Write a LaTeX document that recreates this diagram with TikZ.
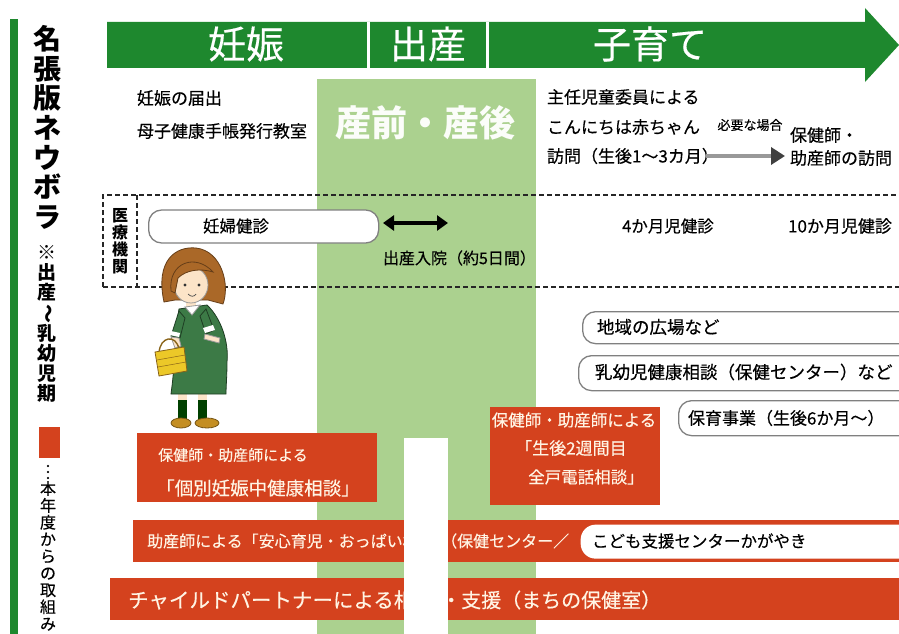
\documentclass[tikz,border=0pt]{standalone}
\usepackage{fontspec}
\setmainfont{Noto Sans CJK JP}[UprightFeatures={FakeBold=0.35}]
\usepackage{graphicx}
\usetikzlibrary{arrows.meta}
\definecolor{barGreen}{RGB}{30,136,46}
\definecolor{paleGreen}{RGB}{171,209,143}
\definecolor{newRed}{RGB}{212,66,30}
\definecolor{boxGray}{RGB}{128,128,128}
\definecolor{creamText}{RGB}{255,244,228}
\definecolor{hairBrown}{RGB}{170,104,40}
\definecolor{skinTone}{RGB}{252,228,200}
\definecolor{dressGreen}{RGB}{60,122,70}
\definecolor{basketYellow}{RGB}{236,200,40}
\definecolor{shoeOchre}{RGB}{196,142,34}
% font size helpers: \fsz{size}, \fszb{size}{baselineskip}
\newcommand\fsz[1]{\fontsize{#1}{#1}\selectfont}
\newcommand\fszb[2]{\fontsize{#1}{#2}\selectfont}
\begin{document}
\begin{tikzpicture}[x=1pt,y=-1pt,
  txt/.style={inner sep=0pt, outer sep=0pt, anchor=west, text=black},
  barlabel/.style={inner sep=0pt, text=white, font=\fsz{38}},
  redlabel/.style={inner sep=0pt, anchor=west, text=creamText},
  redbox/.style={fill=newRed, draw=none, inner sep=0pt, anchor=north west},
  pill/.style={draw=boxGray, line width=1.3pt, fill=white, rounded corners=13pt, inner sep=0pt},
  dashbox/.style={draw=black!85, line width=1.4pt, dash pattern=on 5pt off 3pt},
  vstack/.style={inner sep=0pt, align=center, text=black}
]
\useasboundingbox (0,0) rectangle (899,634);
\clip (0,0) rectangle (899,634);
\fill[white] (0,0) rectangle (899,634);

% ---- left title column ----
\fill[barGreen] (10,19) rectangle (18,634);
\node[vstack, anchor=north, font=\fszb{28}{29.7}\bfseries] (title) at (47,25)
  {名\\張\\版\\ネ\\ウ\\ボ\\ラ};
\node[vstack, anchor=north, font=\fszb{19}{20}\bfseries] (period) at (47,245)
  {※\\出\\産\\\rotatebox[origin=c]{-90}{～}\\乳\\幼\\児\\期};
\node[fill=newRed, inner sep=0pt, minimum width=21pt, minimum height=31pt, anchor=north west] (legend) at (39,427) {};
\node[vstack, anchor=north, font=\fszb{16}{16.9}] (legendT) at (48,463)
  {\rotatebox[origin=c]{-90}{…}\\本\\年\\度\\か\\ら\\の\\取\\組\\み};

% ---- period column (before / after birth) ----
\fill[paleGreen] (317,79) rectangle (536,634);

% ---- timeline arrow ----
\fill[barGreen] (107,22) -- (865,22) -- (865,8) -- (899,45) -- (865,82) -- (865,68) -- (107,68) -- cycle;
\fill[white] (366.5,22) rectangle (369.5,68);
\fill[white] (485.5,22) rectangle (488.5,68);
\node[barlabel] (pregnancy) at (246,44) {妊娠};
\node[barlabel] (birth) at (428,44) {出産};
\node[barlabel] (childcare) at (650,44) {子育て};

% ---- upper texts ----
\node[txt, font=\fsz{17}] (notif) at (137,98) {妊娠の届出};
\node[txt, font=\fsz{17}] (handbook) at (137,131) {母子健康手帳発行教室};
\node[inner sep=0pt, text=white!95!paleGreen, font=\fsz{36}\bfseries] (peri) at (425,123) {産前・産後};
\node[txt, font=\fsz{17}] (visitA) at (547,97) {主任児童委員による};
\node[txt, font=\fsz{17}] (visitB) at (547,127) {こんにちは赤ちゃん};
\node[txt, font=\fsz{17}] (visitC) at (547,156) {訪問（生後1～3カ月）};
\node[inner sep=0pt, font=\fsz{13}] (ifneeded) at (750,125) {必要な場合};
\coordinate (gStart) at (706,156);
\coordinate (gEnd) at (785,156);
\draw[line width=4pt, draw=black!40, -{Triangle[length=14pt,width=17pt,color=black!75]}] (gStart) -- (gEnd);
\node[txt, font=\fsz{17}] (nurseA) at (790,135) {保健師・};
\node[txt, font=\fsz{17}] (nurseB) at (790,158) {助産師の訪問};

% ---- medical institution band ----
\draw[dashbox] (103,287) -- (103,195) -- (920,195);
\draw[dashbox] (103,287) -- (920,287);
\draw[dashbox] (137,195) -- (137,287);
\node[vstack, font=\fszb{16}{17}\bfseries] (medical) at (120,241) {医\\療\\機\\関};
\node[pill, minimum width=230pt, minimum height=33pt, anchor=west] (checkup) at (148,226.5) {};
\node[inner sep=0pt, font=\fsz{16.5}] (checkupT) at (236,226) {妊婦健診};
\coordinate (stayL) at (383,223);
\coordinate (stayR) at (448,223);
\draw[line width=3.5pt, {Triangle[length=11pt,width=15pt]}-{Triangle[length=11pt,width=15pt]}] (stayL) -- (stayR);
\node[txt, font=\fsz{16}] (stay) at (383,258) {出産入院（約5日間）};
\node[inner sep=0pt, font=\fsz{16.5}] (month4) at (668,226) {4か月児健診};
\node[inner sep=0pt, font=\fsz{17}] (month10) at (840,226) {10か月児健診};

% ---- community services ----
\node[pill, minimum width=345pt, minimum height=32pt, anchor=north west] (plaza) at (582,311) {};
\node[txt, font=\fsz{17.5}] (plazaT) at (597,327) {地域の広場など};
\node[pill, minimum width=345pt, minimum height=35pt, anchor=north west] (infant) at (578,355) {};
\node[txt, font=\fsz{17.5}] (infantT) at (595,372) {乳幼児健康相談（保健センター）など};
\node[pill, minimum width=245pt, minimum height=35pt, anchor=north west] (nursery) at (678,400) {};
\node[txt, font=\fsz{17}] (nurseryT) at (688,418) {保育事業（生後6か月～）};

% ---- new programmes (red) ----
\node[redbox, minimum width=240pt, minimum height=69pt] (prenatal) at (137,433) {};
\node[redlabel, font=\fsz{15}] (prenatalA) at (158,455) {保健師・助産師による};
\node[redlabel, font=\fsz{18.5}] (prenatalB) at (156,488) {「個別妊娠中健康相談」};
\node[redbox, minimum width=170pt, minimum height=98pt] (phone) at (490,407) {};
\node[inner sep=0pt, text=creamText, font=\fsz{16.5}] (phoneA) at (574,420) {保健師・助産師による};
\node[redlabel, font=\fsz{17}] (phoneB) at (515,448) {「生後2週間目};
\node[redlabel, font=\fsz{16.5}] (phoneC) at (528,477) {全戸電話相談」};

% bottom bars
\node[redbox, minimum width=790pt, minimum height=42pt] (breast) at (133,520) {};
\node[redlabel, font=\fsz{16}] (breastA) at (147,541) {助産師による「安心育児・おっぱい相};
\node[redlabel, font=\fsz{16}] (breastB) at (441,541) {（保健センター／};
\node[pill, fill=white, draw=none, minimum width=345pt, minimum height=34pt, rounded corners=15pt, anchor=north west] (kagayaki) at (580,524) {};
\node[txt, font=\fsz{16.5}] (kagayakiT) at (592,541) {こども支援センターかがやき};
\node[redbox, minimum width=810pt, minimum height=42pt] (partner) at (110,578) {};
\node[redlabel, font=\fsz{20.5}] (partnerA) at (128,600) {チャイルドパートナーによる相};
\node[redlabel, font=\fsz{20}] (partnerB) at (441,600) {・支援（まちの保健室）};

% white gap through the lower rows
\fill[white] (404,438) rectangle (448,634);

% ---- pregnant woman ----
\begin{scope}[line width=0.8pt]
  % legs and shoes
  \fill[skinTone] (178,390) rectangle (187,402);
  \fill[skinTone] (198,390) rectangle (207,402);
  \fill[black!75!green] (178,400) rectangle (187,419);
  \fill[black!75!green] (198,400) rectangle (207,419);
  \filldraw[fill=shoeOchre, draw=shoeOchre!60!black] (181,423) ellipse (10 and 5);
  \filldraw[fill=shoeOchre, draw=shoeOchre!60!black] (207,423) ellipse (12 and 5);
  % hair (back)
  \filldraw[fill=hairBrown, draw=hairBrown!60!black]
    (164,302) .. controls (155,260) and (176,246) .. (196,248)
    .. controls (222,251) and (230,285) .. (223,304) -- (208,300) -- (175,300) -- cycle;
  % neck
  \fill[skinTone] (186,298) rectangle (196,310);
  % dress
  \filldraw[fill=dressGreen, draw=dressGreen!50!black]
    (179,309) -- (207,305) .. controls (221,318) and (229,342) .. (227,362)
    .. controls (227,376) and (226,386) .. (226,394) -- (171,394)
    .. controls (174,372) and (176,342) .. (177,322) -- cycle;
  \filldraw[fill=white, draw=black!40] (185,307) -- (192,315) -- (200,305) -- cycle;
  % arms
  \filldraw[fill=dressGreen, draw=dressGreen!50!black] (179,311) -- (171,336) -- (180,338) -- (185,318) -- cycle;
  \fill[white] (171,331) -- (180,333) -- (179,337) -- (170,335) -- cycle;
  \filldraw[fill=skinTone, draw=black!40] (171,337) -- (175,348) -- (181,346) -- (179,338) -- cycle;
  \filldraw[fill=dressGreen, draw=dressGreen!50!black] (206,309) -- (214,330) -- (206,334) -- (200,316) -- cycle;
  \fill[white] (203,328) -- (213,325) -- (215,330) -- (205,333) -- cycle;
  \filldraw[fill=skinTone, draw=black!40] (205,334) -- (220,338) -- (219,343) -- (204,339) -- cycle;
  % basket
  \draw[line width=1.4pt, draw=shoeOchre!70!black] (159,353) .. controls (160,336) and (176,334) .. (179,349);
  \filldraw[fill=basketYellow, draw=shoeOchre!70!black] (155,352) -- (184,347) -- (187,371) -- (159,376) -- cycle;
  \draw[draw=shoeOchre!70!black, line width=0.5pt] (157,360) -- (185,355) (158,367) -- (186,362);
  % face and bangs
  \filldraw[fill=skinTone, draw=black!40] (191,285) ellipse (17 and 18);
  \filldraw[fill=hairBrown, draw=hairBrown!60!black]
    (171,291) .. controls (168,262) and (196,253) .. (213,272)
    .. controls (200,268) and (186,270) .. (178,278) -- (175,293) -- cycle;
  \fill[black!80] (185,285) circle (1.6);
  \fill[black!80] (199,285) circle (1.6);
  \draw[black!70, line width=0.7pt] (188,294) .. controls (191,297) and (194,297) .. (196,294);
\end{scope}
\end{tikzpicture}
\end{document}
